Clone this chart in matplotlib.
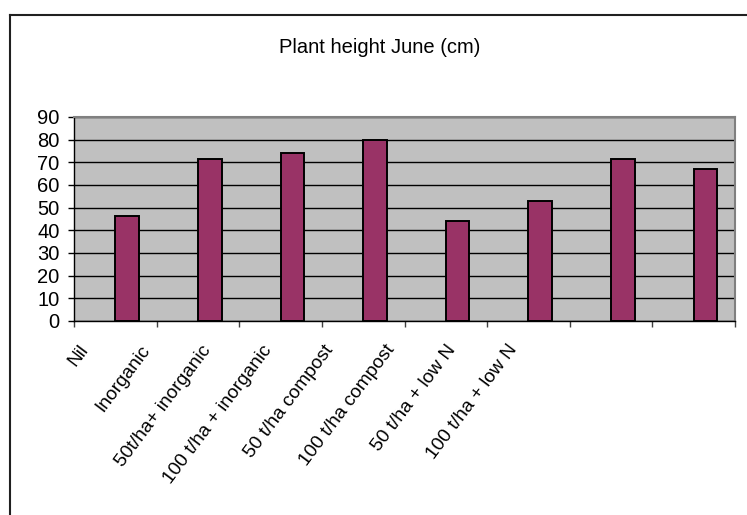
import matplotlib
matplotlib.use("Agg")
import matplotlib.pyplot as plt
from matplotlib.lines import Line2D
import numpy as np

categories = ["Nil", "Inorganic", "50t/ha+ inorganic", "100 t/ha + inorganic",
              "50 t/ha compost", "100 t/ha compost", "50 t/ha + low N", "100 t/ha + low N"]
heights = [46.5, 71.5, 74, 80, 44, 53, 71.5, 67]
yticks = [0, 10, 20, 30, 40, 50, 60, 70, 80, 90]

plt.rcParams['font.family'] = ['Liberation Sans', 'DejaVu Sans']

W, H = 747, 515
fig = plt.figure(figsize=(W / 100, H / 100), dpi=100)
fig.patch.set_facecolor("white")

left, right, top, bottom = 74, 735, 117, 321
ax = fig.add_axes([left / W, 1 - bottom / H, (right - left) / W, (bottom - top) / H])
ax.set_facecolor("#C0C0C0")

x = np.arange(len(categories))
bar_w = 1 / 3.5
ax.bar(x, heights, width=bar_w, align="edge", color="#993366",
       edgecolor="black", linewidth=1.4, zorder=3)

ax.set_xlim(-0.5, len(categories) - 0.5)
ax.set_ylim(0, 90)
ax.set_yticks(yticks)
ax.set_yticklabels([str(v) for v in yticks], fontsize=14.5)
ax.yaxis.grid(True, color="black", linewidth=1.0, zorder=1)
ax.set_axisbelow(True)
ax.tick_params(axis="y", length=4.5, width=1, pad=6, color="black")

ax.set_xticks(np.arange(len(categories) + 1) - 0.5)
ax.set_xticklabels([])
ax.tick_params(axis="x", length=4, width=1, color="#404040")

for s in ["top", "right"]:
    ax.spines[s].set_color("#808080")
    ax.spines[s].set_linewidth(1.5)
for s in ["left", "bottom"]:
    ax.spines[s].set_color("black")
    ax.spines[s].set_linewidth(1.0)

# category labels on a companion axis (Excel label spacing)
ax2 = ax.twiny()
a0 = -0.29
ax2.set_xlim(a0, a0 + (right - left) / 61.3)
ax2.xaxis.set_ticks_position("bottom")
ax2.xaxis.set_label_position("bottom")
ax2.spines[:].set_visible(False)
ax2.set_xticks(x)
ax2.set_xticklabels(categories, rotation=53, ha="right", va="top", fontsize=13.8)
ax2.tick_params(axis="x", length=0, pad=15)
ax2.patch.set_visible(False)

fig.text(380 / W, 1 - 53 / H, "Plant height June (cm)", ha="center", va="baseline", fontsize=14.5)

# chart area border (left and top edges visible)
fig.add_artist(Line2D([10 / W, 10 / W], [0, 1 - 15 / H], transform=fig.transFigure,
                      color="#202020", linewidth=1.5))
fig.add_artist(Line2D([10 / W, 1], [1 - 15 / H, 1 - 15 / H], transform=fig.transFigure,
                      color="#202020", linewidth=1.5))

fig.savefig("out.png", dpi=100, facecolor="white")
